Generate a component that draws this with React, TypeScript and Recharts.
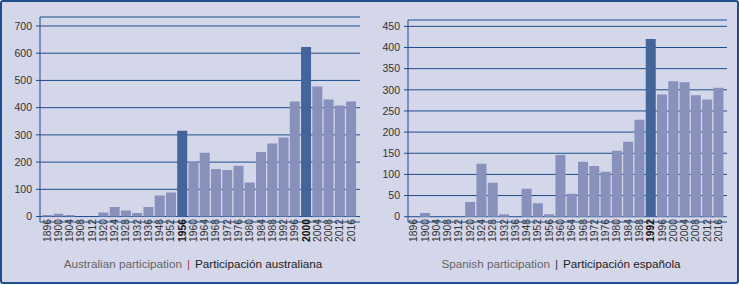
import { BarChart, Bar, XAxis, YAxis, CartesianGrid, Cell } from "recharts";

const years = [
  "1896", "1900", "1904", "1908", "1912", "1920", "1924", "1928", "1932", "1936",
  "1948", "1952", "1956", "1960", "1964", "1968", "1972", "1976", "1980", "1984",
  "1988", "1992", "1996", "2000", "2004", "2008", "2012", "2016",
];

const australia = [
  6, 10, 6, 0, 0, 15, 35, 22, 13, 35,
  77, 88, 315, 200, 234, 175, 171, 187, 125, 237,
  268, 290, 423, 623, 478, 430, 408, 423,
];

const spain = [
  0, 9, 0, 0, 0, 35, 125, 80, 6, 0,
  66, 32, 6, 146, 54, 130, 120, 106, 156, 177,
  229, 420, 289, 320, 318, 287, 277, 305,
];

// host years, drawn darker and in bold
const ausHosted = ["1956", "2000"];
const espHosted = ["1992"];

const ausTicks = [0, 100, 200, 300, 400, 500, 600, 700];
const espTicks = [0, 50, 100, 150, 200, 250, 300, 350, 400, 450];

const BLUE = "#1d4d8d";
const BAR = "#8890bc";
const HIGHLIGHT = "#44649c";
const FONT = "'Liberation Sans', Arial, sans-serif";

function YearTick(props: any) {
  const { x, y, payload, highlight } = props;
  const bold = highlight.includes(payload.value);
  const tx = x + 3.6;
  const ty = y - 3;
  return (
    <text
      x={tx}
      y={ty}
      transform={`rotate(-90 ${tx} ${ty})`}
      textAnchor="end"
      fontSize={10.3}
      fontFamily={FONT}
      fontWeight={bold ? 700 : 400}
      fill={bold ? "#111" : "#333"}
    >
      {payload.value}
    </text>
  );
}

type PanelProps = {
  values: number[];
  ticks: number[];
  domain: [number, number];
  highlight: string[];
  width: number;
  yWidth: number;
  top: number;
  right: number;
  padding: { left: number; right: number };
};

function Panel({ values, ticks, domain, highlight, width, yWidth, top, right, padding }: PanelProps) {
  const data = years.map((year, i) => ({ year, value: values[i] }));
  return (
    <BarChart
      width={width}
      height={285}
      data={data}
      margin={{ top, right, bottom: 0, left: 0 }}
      barCategoryGap="6.5%"
    >
      <CartesianGrid horizontal vertical={false} stroke={BLUE} strokeWidth={1} />
      <XAxis
        dataKey="year"
        interval={0}
        axisLine={false}
        tickLine={false}
        tickSize={0}
        tickMargin={0}
        height={63}
        padding={padding}
        tick={<YearTick highlight={highlight} />}
      />
      <YAxis
        type="number"
        domain={domain}
        ticks={ticks}
        interval={0}
        allowDataOverflow
        width={yWidth}
        axisLine={{ stroke: BLUE, strokeWidth: 1 }}
        tickLine={{ stroke: BLUE }}
        tickSize={4}
        tickMargin={4}
        tick={{ fill: "#333", fontSize: 10.5, fontFamily: FONT }}
      />
      <Bar dataKey="value" isAnimationActive={false}>
        {data.map((d) => (
          <Cell key={d.year} fill={highlight.includes(d.year) ? HIGHLIGHT : BAR} />
        ))}
      </Bar>
    </BarChart>
  );
}

function Caption({ left, right, sep, center }: { left: string; right: string; sep: string; center: number }) {
  return (
    <div
      style={{
        position: "absolute",
        top: 255,
        left: center - 200,
        width: 400,
        textAlign: "center",
        fontFamily: FONT,
        fontSize: 11.7,
        whiteSpace: "nowrap",
      }}
    >
      <span style={{ color: "#666" }}>{left}</span>
      <span style={{ color: sep, margin: "0 5px" }}>|</span>
      <span style={{ color: "#222" }}>{right}</span>
    </div>
  );
}

export default function App() {
  return (
    <div
      style={{
        position: "absolute",
        top: 0,
        left: 0,
        width: 739,
        height: 284,
        boxSizing: "border-box",
        border: `2px solid ${BLUE}`,
        borderRadius: 3,
        background: "#d4d7e9",
        overflow: "hidden",
      }}
    >
      <div style={{ position: "absolute", top: -2, left: -2 }}>
        <Panel
          values={australia}
          ticks={ausTicks}
          domain={[-20, 733]}
          highlight={ausHosted}
          width={369}
          yWidth={40}
          top={17}
          right={9}
          padding={{ left: 1.4, right: 3.4 }}
        />
      </div>
      <div style={{ position: "absolute", top: -2, left: 367 }}>
        <Panel
          values={spain}
          ticks={espTicks}
          domain={[-12.5, 465]}
          highlight={espHosted}
          width={370}
          yWidth={39}
          top={20}
          right={12}
          padding={{ left: 0, right: 3 }}
        />
      </div>
      <Caption left="Australian participation" right="Participación australiana" sep="#a23a4a" center={191} />
      <Caption left="Spanish participation" right="Participación española" sep="#333" center={559} />
    </div>
  );
}
